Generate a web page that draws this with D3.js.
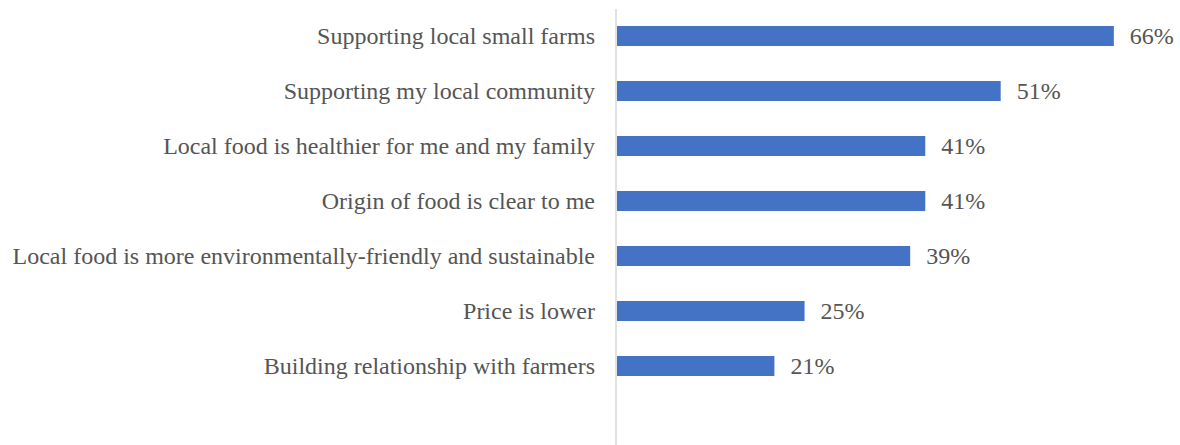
<!DOCTYPE html>
<html>
<head>
<meta charset="utf-8">
<script src="https://cdn.jsdelivr.net/npm/d3@7"></script>
<style>
  html, body { margin: 0; padding: 0; background: #fff; }
  svg { display: block; }
</style>
</head>
<body>
<svg id="chart" width="1180" height="445"></svg>
<script>
// Reasons for buying local food (share of respondents, %)
const categories = [
  "Supporting local small farms",
  "Supporting my local community",
  "Local food is healthier for me and my family",
  "Origin of food is clear to me",
  "Local food is more environmentally-friendly and sustainable",
  "Price is lower",
  "Building relationship with farmers"
];
const values = [66, 51, 41, 41, 39, 25, 21];
const xDomain = [0, 70];

const svg = d3.select("#chart");
const font = "'Liberation Serif', 'Times New Roman', serif";
const fontSize = "24px";
const textColor = "#555555";

const x = d3.scaleLinear().domain(xDomain).range([616, 1144]);
const y = d3.scaleBand().domain(categories).range([8.5, 393.5]).paddingInner(0.636).paddingOuter(0.318);

const data = categories.map((c, i) => ({ c, v: values[i] }));

// vertical category axis line
svg.append("line")
  .attr("x1", 616).attr("x2", 616)
  .attr("y1", 9).attr("y2", 445)
  .attr("stroke", "#d9d9d9").attr("stroke-width", 1.5);

// bars
svg.selectAll("rect.bar").data(data).enter().append("rect")
  .attr("class", "bar")
  .attr("x", x(0) + 1)
  .attr("y", d => y(d.c))
  .attr("width", d => x(d.v) - x(0) - 1)
  .attr("height", y.bandwidth())
  .attr("fill", "#4472c4");

// category labels
svg.selectAll("text.cat").data(data).enter().append("text")
  .attr("class", "cat")
  .attr("x", 595)
  .attr("y", d => y(d.c) + y.bandwidth() / 2)
  .attr("dy", "0.34em")
  .attr("text-anchor", "end")
  .attr("font-family", font)
  .attr("font-size", fontSize)
  .attr("fill", textColor)
  .text(d => d.c);

// value labels
svg.selectAll("text.val").data(data).enter().append("text")
  .attr("class", "val")
  .attr("x", d => x(d.v) + 16)
  .attr("y", d => y(d.c) + y.bandwidth() / 2)
  .attr("dy", "0.34em")
  .attr("font-family", font)
  .attr("font-size", fontSize)
  .attr("fill", textColor)
  .text(d => d.v + "%");
</script>
</body>
</html>
